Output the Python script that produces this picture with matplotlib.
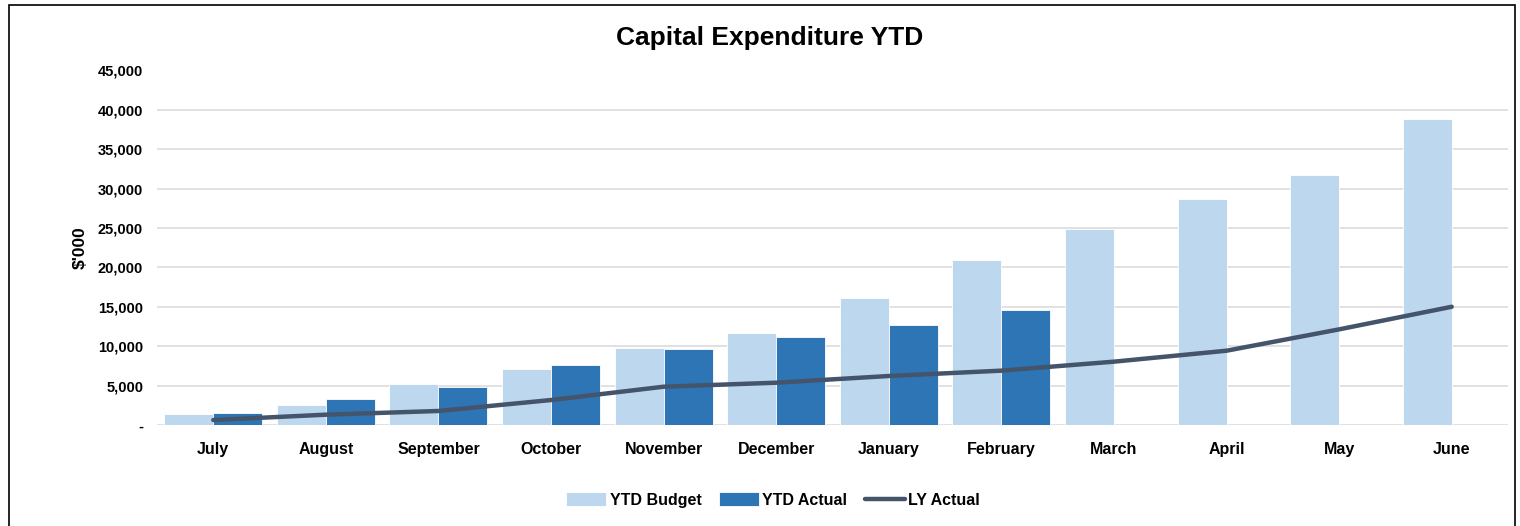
import numpy as np
import matplotlib
matplotlib.use("Agg")
import matplotlib.pyplot as plt
from matplotlib.patches import Rectangle
from matplotlib.ticker import FuncFormatter

plt.rcParams['font.family'] = ['Liberation Sans', 'DejaVu Sans']
plt.rcParams['font.weight'] = 'bold'

# data ($'000)
months = ["July", "August", "September", "October", "November", "December",
          "January", "February", "March", "April", "May", "June"]
ytd_budget = [1430, 2580, 5200, 7100, 9810, 11680, 16080, 20980, 24870, 28640, 31730, 38830]
ytd_actual = [1520, 3340, 4860, 7570, 9600, 11130, 12690, 14560, None, None, None, None]
ly_actual = [630, 1310, 1780, 3170, 4860, 5370, 6220, 6900, 8040, 9430, 12140, 15010]

c_budget = "#BDD7EE"
c_actual = "#2E75B6"
c_line = "#44546A"

fig = plt.figure(figsize=(15.2, 5.26), dpi=100)
ax = fig.add_axes([157 / 1520, 1 - 425 / 526, (1508 - 157) / 1520, (425 - 70.5) / 526])

x = np.arange(len(months))
w = 0.435
act = [np.nan if v is None else v for v in ytd_actual]
b1 = ax.bar(x - w / 2, ytd_budget, w, color=c_budget, edgecolor="white", linewidth=0.6,
            label="YTD Budget", zorder=2)
b2 = ax.bar(x + w / 2, act, w, color=c_actual, edgecolor="white", linewidth=0.6,
            label="YTD Actual", zorder=2)
ln, = ax.plot(x, ly_actual, color=c_line, linewidth=3.2, solid_capstyle="round",
              solid_joinstyle="round", label="LY Actual", zorder=3)

ax.set_xlim(-0.5, 11.5)
ax.set_ylim(0, 45000)
ax.set_yticks(np.arange(0, 45001, 5000))
ax.yaxis.set_major_formatter(FuncFormatter(lambda v, p: "-" if v == 0 else f"{int(v):,}"))
ax.set_xticks(x)
ax.set_xticklabels(months)
ax.tick_params(axis="both", length=0, labelsize=10.5)
ax.tick_params(axis="y", pad=10)
ax.tick_params(axis="x", pad=12, labelsize=11.5)
ax.grid(axis="y", color="#D9D9D9", linewidth=1.1, zorder=0)
ax.set_axisbelow(True)
for s in ax.spines.values():
    s.set_visible(False)

ax.set_ylabel("$'000", fontsize=12.5, fontweight="bold", labelpad=7)

fig.text(770 / 1520, 1 - 38 / 526, "Capital Expenditure YTD", ha="center", va="center",
         fontsize=19, fontweight="bold")

fig.legend(handles=[b1, b2, ln], loc="center", bbox_to_anchor=(773 / 1520, 1 - 500 / 526),
           ncol=3, frameon=False, fontsize=11.5, handlelength=2.5, handleheight=0.9,
           handletextpad=0.2, columnspacing=1.1)

fig.add_artist(Rectangle((9 / 1520, -0.02), (1515 - 9) / 1520, 1.02 - 5 / 526,
                         transform=fig.transFigure, fill=False, edgecolor="black",
                         linewidth=1.2))

fig.savefig("out.png", dpi=100)
